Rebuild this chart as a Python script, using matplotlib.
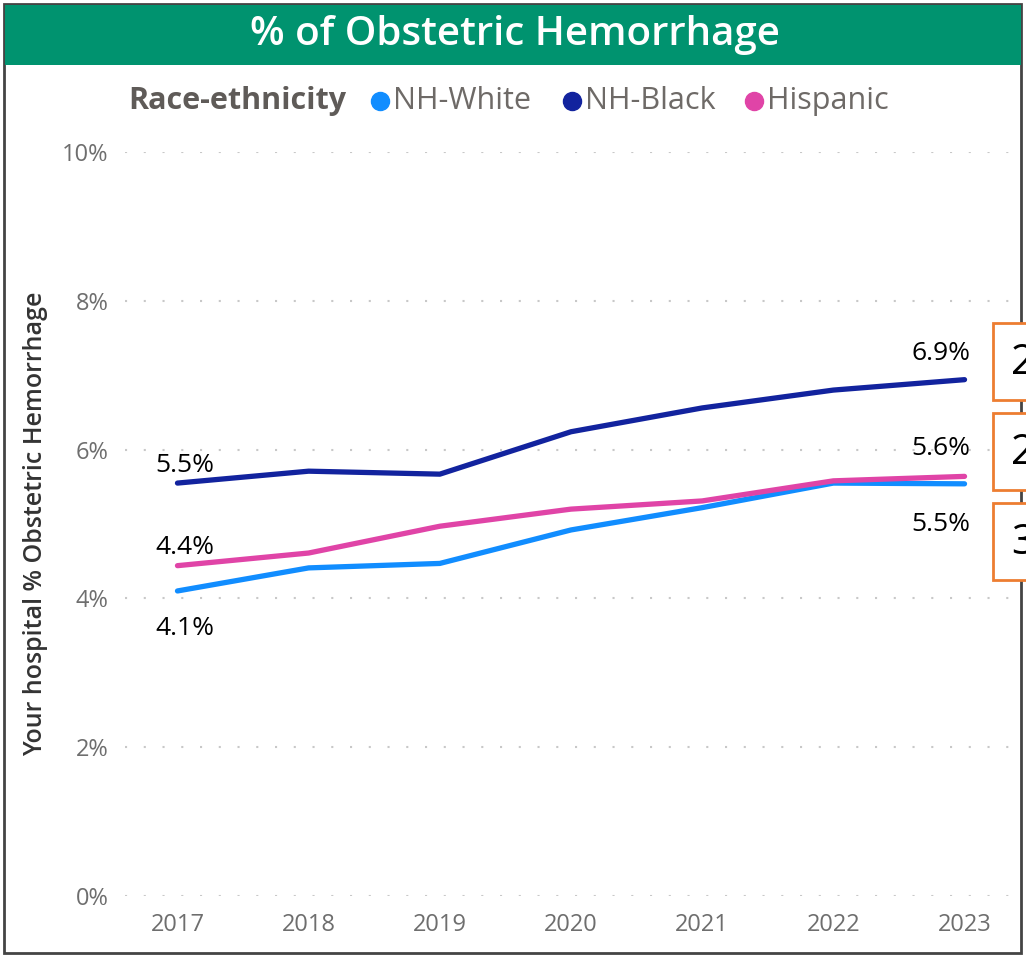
import matplotlib.pyplot as plt
from matplotlib.patches import Rectangle

years = [2017, 2018, 2019, 2020, 2021, 2022, 2023]
nh_white = [4.10, 4.41, 4.47, 4.92, 5.22, 5.55, 5.54]
nh_black = [5.55, 5.71, 5.67, 6.24, 6.56, 6.80, 6.94]
hispanic = [4.44, 4.61, 4.97, 5.20, 5.31, 5.58, 5.64]
series_names = ["NH-White", "NH-Black", "Hispanic"]
yticks = [0, 2, 4, 6, 8, 10]
side_boxes = ["2", "2", "3"]

colors = {"NH-White": "#118DFF", "NH-Black": "#12239E", "Hispanic": "#E044A7"}
plain = ["Open Sans", "DejaVu Sans"]

fig = plt.figure(figsize=(10.26, 9.56), dpi=100)
W, H = 1026, 956

def fx(px):
    return px / W

def fy(py):
    return 1 - py / H

# outer frame + title bar
fig.patches.append(Rectangle((fx(4), fy(953)), fx(1017), (953 - 4) / H,
                             transform=fig.transFigure, fill=False,
                             edgecolor="#444444", lw=2, zorder=0))
fig.patches.append(Rectangle((fx(5), fy(65)), fx(1016), 60 / H,
                             transform=fig.transFigure, facecolor="#00936F",
                             edgecolor="none", zorder=1))
fig.text(fx(515), fy(35), "% of Obstetric Hemorrhage", color="white",
         fontsize=29, fontweight="semibold", family=plain, ha="center", va="center")

# legend row
fig.text(fx(128), fy(101), "Race-ethnicity", color="#5F5B58", fontsize=22,
         fontweight="bold", family=plain, ha="left", va="center")
leg_x = [380, 572, 754]
for name, lx in zip(series_names, leg_x):
    fig.lines.append(plt.Line2D([fx(lx)], [fy(101)], marker="o", markersize=13,
                                color=colors[name], transform=fig.transFigure))
    fig.text(fx(lx + 13), fy(101), name, color="#6E6A67", fontsize=22,
             family=plain, ha="left", va="center")

ax = fig.add_axes([fx(125), fy(896), fx(1017 - 125), (896 - 152) / H])
data = {"NH-White": nh_white, "NH-Black": nh_black, "Hispanic": hispanic}
for name in series_names:
    ax.plot(years, data[name], color=colors[name], lw=3.8,
            solid_capstyle="round", zorder=3)

ax.set_xlim(2016.6, 2023.4)
ax.set_ylim(0, 10)
ax.set_yticks(yticks)
ax.set_yticklabels([f"{t}%" for t in yticks])
ax.set_xticks(years)
ax.grid(axis="y", color="#C8C8C8", linestyle=(0, (1, 8)), lw=1.5)
for s in ax.spines.values():
    s.set_visible(False)
ax.tick_params(length=0, labelsize=17, labelcolor="#6E6E6E", pad=12)
for lab in ax.get_xticklabels() + ax.get_yticklabels():
    lab.set_family(plain)
ax.set_ylabel("Your hospital % Obstetric Hemorrhage", fontsize=18,
              color="#333333", family=plain, fontweight="semibold", labelpad=10)

# data labels at the ends
def lbl(x, y, dy, ha, dx=0):
    ax.annotate(f"{y:.1f}%", (x, y), xytext=(dx, dy), textcoords="offset points",
                ha=ha, va="center", fontsize=19, family=plain, color="black")

lbl(years[0], nh_black[0], 13, "center", 5)
lbl(years[0], hispanic[0], 13, "center", 5)
lbl(years[0], nh_white[0], -27, "center", 5)
lbl(years[-1], nh_black[-1], 19, "right", 4)
lbl(years[-1], hispanic[-1], 20, "right", 4)
lbl(years[-1], nh_white[-1], -29, "right", 4)

# partially visible side boxes
box_tops = [323, 413, 503]
for txt, top in zip(side_boxes, box_tops):
    fig.patches.append(Rectangle((fx(993), fy(top + 77)), fx(60), 77 / H,
                                 transform=fig.transFigure, facecolor="white",
                                 edgecolor="#ED7D31", lw=2, zorder=5))
    fig.text(fx(1011), fy(top + 40), txt, fontsize=30, family=plain,
             color="black", ha="left", va="center", zorder=6)

fig.savefig("out.png", dpi=100)
